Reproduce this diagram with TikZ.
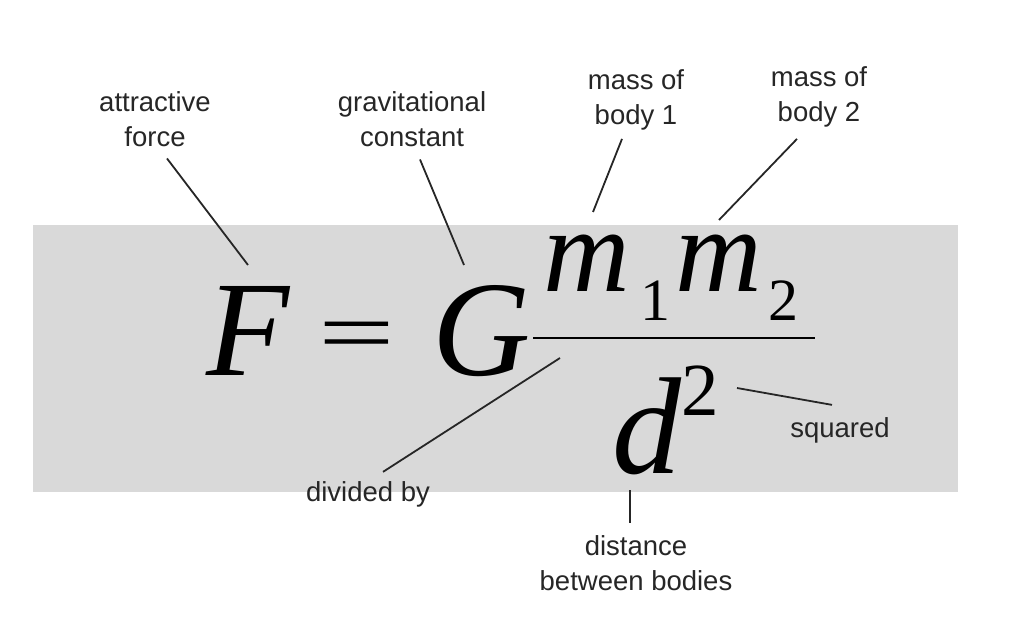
\documentclass[tikz,border=0pt]{standalone}
\usepackage{fontspec}
\usepackage{graphicx}
\setmainfont{Liberation Sans}
\newfontfamily\eqfont{Liberation Serif}
\definecolor{panelgray}{HTML}{D9D9D9}
\definecolor{inkgray}{HTML}{262626}
\newcommand{\eqit}[1]{\fontsize{#1}{#1}\selectfont\eqfont\itshape}
\newcommand{\equp}[1]{\fontsize{#1}{#1}\selectfont\eqfont}

\begin{document}
\begin{tikzpicture}[x=1pt, y=-1pt,
  lbl/.style={font=\fontsize{27.5}{35}\selectfont, text=inkgray,
              align=center, inner sep=0pt, anchor=base},
  sym/.style={inner sep=0pt, anchor=base west, text=black},
  leader/.style={draw=inkgray, line width=1.8pt}
]
  \useasboundingbox (0,0) rectangle (1024,617);
  \fill[panelgray] (33,225) rectangle (958,492);

  % formula
  \node[sym, font=\eqit{136}] (F)  at (206,375) {F};
  \node[sym, font=\equp{136}] (eq) at (318,362) {\scalebox{1}[0.65]{=}};
  \node[sym, font=\eqit{136}] (G)  at (432,375) {G};
  \node[sym, font=\eqit{120}] (mA) at (543,291) {m};
  \node[sym, font=\equp{60}]  (iA) at (640,320) {1};
  \node[sym, font=\eqit{120}] (mB) at (675,291) {m};
  \node[sym, font=\equp{60}]  (iB) at (768,320) {2};
  \draw[line width=2.5pt] (533,338) -- (815,338);
  \node[sym, font=\eqit{138}] (d)  at (612,473) {d};
  \node[sym, font=\equp{75}]  (sq) at (681,415) {2};

  % labels
  \node[lbl] (lblF)    at (155,147) {attractive\\force};
  \node[lbl] (lblG)    at (412,147) {gravitational\\constant};
  \node[lbl] (lblmA)   at (636,125) {mass of\\body 1};
  \node[lbl] (lblmB)   at (819,122) {mass of\\body 2};
  \node[lbl] (lblDiv)  at (368,501) {divided by};
  \node[lbl] (lblSq)   at (840,437) {squared};
  \node[lbl] (lblDist) at (636,590) {distance\\between bodies};

  \coordinate (tipF)   at (248,265);
  \coordinate (tipG)   at (464,265);
  \coordinate (tipmA)  at (593,212);
  \coordinate (tipmB)  at (719,220);
  \coordinate (tipBar) at (560,358);
  \coordinate (tipSq)  at (737,388);
  \coordinate (tipD)   at (630,490);

  \draw[leader] ([shift={(12,11)}]lblF.south)     -- (tipF);
  \draw[leader] ([shift={(8,12)}]lblG.south)      -- (tipG);
  \draw[leader] ([shift={(-14,8)}]lblmA.south)    -- (tipmA);
  \draw[leader] ([shift={(-22,11)}]lblmB.south)   -- (tipmB);
  \draw[leader] ([shift={(15,-9)}]lblDiv.north)   -- (tipBar);
  \draw[leader] ([shift={(-8,-12)}]lblSq.north)   -- (tipSq);
  \draw[leader] ([shift={(-6,-12)}]lblDist.north) -- (tipD);
\end{tikzpicture}
\end{document}
